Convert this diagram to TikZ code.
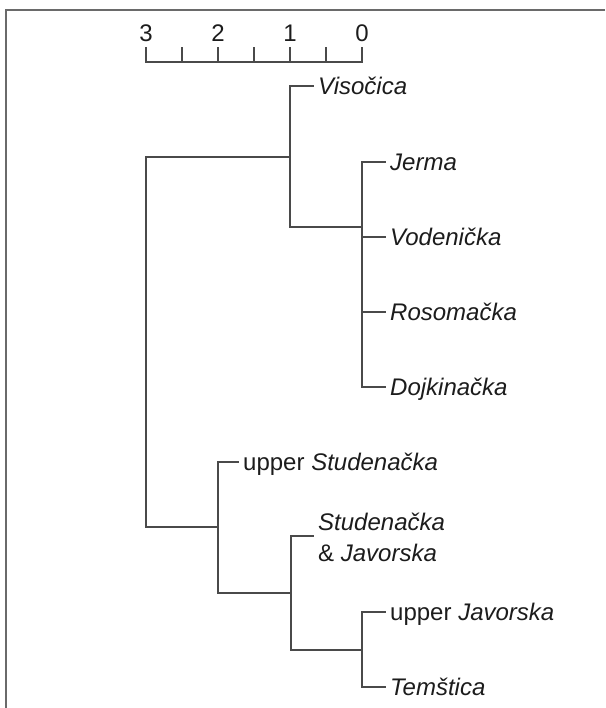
\documentclass[tikz,border=0pt]{standalone}
\usepackage{fontspec}
\setmainfont{Liberation Sans}
\definecolor{treegray}{HTML}{4A4A4A}
\definecolor{framegray}{HTML}{6A6A6A}
\definecolor{inkblack}{HTML}{1C1C1C}
\begin{document}
\begin{tikzpicture}[x=1pt,y=-1pt,
  branch/.style={draw=treegray, line width=1.8pt, line cap=rect, line join=miter},
  framing/.style={draw=framegray, line width=1.4pt},
  lbl/.style={anchor=west, inner xsep=5pt, inner ysep=0pt,
    text height=17.3pt, text depth=0pt, text=inkblack,
    font=\fontsize{24}{31}\selectfont},
  multilbl/.style={anchor=base west, inner xsep=5pt, inner ysep=0pt,
    align=left, text=inkblack, font=\fontsize{24}{31}\selectfont},
  num/.style={anchor=base, inner sep=0pt, text=inkblack,
    font=\fontsize{24}{28}\selectfont}]
\useasboundingbox (0,0) rectangle (605,708);

% partial frame: top and left edges
\draw[framing] (605,10) -- (6,10) -- (6,708);

% distance scale
\node[num] (n3) at (146,42) {3};
\node[num] (n2) at (218,42) {2};
\node[num] (n1) at (290,42) {1};
\node[num] (n0) at (362,42) {0};
\draw[branch] (146,48) -- (146,62) -- (362,62) -- (362,48);
\foreach \x in {182,218,254,290,326} \draw[branch] (\x,48) -- (\x,62);

% leaf labels
\node[lbl] (vis) at (313,86)  {\textit{Visočica}};
\node[lbl] (jer) at (385,162) {\textit{Jerma}};
\node[lbl] (vod) at (385,237) {\textit{Vodenička}};
\node[lbl] (ros) at (385,312) {\textit{Rosomačka}};
\node[lbl] (doj) at (385,387) {\textit{Dojkinačka}};
\node[lbl] (ust) at (238,462) {upper \textit{Studenačka}};
\coordinate (sjtip) at (313,536);
% the base anchor of a two-line node sits on the last line
\node[multilbl] (sj) at ([yshift=-25.6pt]sjtip) {\textit{Studenačka}\\\& \textit{Javorska}};
\node[lbl] (uja) at (385,612) {upper \textit{Javorska}};
\node[lbl] (tem) at (385,687) {\textit{Temštica}};

% internal junctions
\coordinate (root) at (146,157);
\coordinate (A) at (290,157);
\coordinate (B) at (362,227);
\coordinate (C) at (218,527);
\coordinate (D) at (291,593);
\coordinate (E) at (362,650);

% upper cluster
\draw[branch] (vis.west) -| (A) |- (B);
\draw[branch] (jer.west) -| (B) |- (doj.west);
\draw[branch] (B |- vod.west) -- (vod.west);
\draw[branch] (B |- ros.west) -- (ros.west);

% lower cluster
\draw[branch] (ust.west) -| (C) |- (D);
\draw[branch] (sjtip) -| (D) |- (E);
\draw[branch] (uja.west) -| (E) |- (tem.west);

% root
\draw[branch] (A) -- (root) |- (C);
\end{tikzpicture}
\end{document}
